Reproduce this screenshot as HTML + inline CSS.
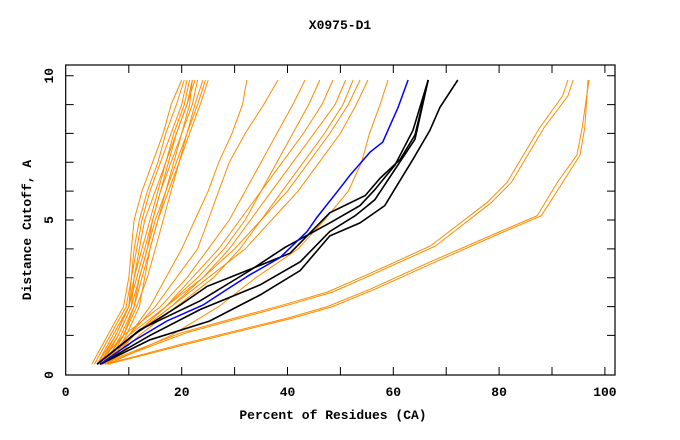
<!DOCTYPE html>
<html><head><meta charset="utf-8">
<style>
body{margin:0;background:#fff;}
svg{display:block;}
text{font-family:"Liberation Mono","DejaVu Sans Mono",monospace;font-weight:bold;fill:#000;}
</style></head>
<body>
<svg id="chart" width="680" height="440" viewBox="0 0 680 440">
<text x="340" y="29" font-size="13" text-anchor="middle">X0975-D1</text>
<text x="333" y="419" font-size="13" text-anchor="middle">Percent of Residues (CA)</text>
<text x="0" y="0" font-size="13" text-anchor="middle" transform="translate(31,230) rotate(-90)">Distance Cutoff, A</text>
<g id="lines"></g>
<g id="axes"></g>
</svg>
<script>
const yLevels = [0,1,2,3,4,5,6,7,8,9,9.85];
const groupA = [
 [3,6,9,10,10.5,11,12.5,14.5,16.5,18,20],
 [3.5,6.5,9.5,10.5,11,12,13.5,15.5,17,19,20.5],
 [4,7,10,10.5,11.5,12.5,14,16,18,20,21],
 [4.5,7.5,10,11,12,13,15,17,19,21,22],
 [5,8,10.5,11,12.5,14,15.5,17,18.5,20.5,21.5],
 [4,7.5,10,11.5,13,14.5,16,18,20,22,23],
 [5.5,8.5,11,12,13.5,15,17,19,21,23,24.5],
 [6,9,11,12.5,14,15.5,17.5,19.5,21.5,23.5,25],
 [4.5,8,10.5,12,13.5,14.5,16,17.5,19,21,22.5],
 [6.5,9.5,12,13,14,15.5,17,18.5,20,21.5,22],
 [5,9,11.5,13.5,15,16.5,18,19.5,21,22.5,24]
];
const groupB = [
 [5,10,14,17,20,22.5,25,27,29.5,31.5,32.3],
 [5,10,15,19,23,25,27,29,32,35.5,38.2],
 [4,9,16,21,25,29,32,35,38,41,43.3],
 [5,10,17,23,28,32,35,38,41,44,46.1],
 [5,11,17,22,27,31,35,39,43,46.5,48.6],
 [5,11,18,24,29,33,37,41,45,49,51],
 [6,11,17,24,30,35,39,43,47,50.5,52.4],
 [6,12,19,26,31,35,40,44,48,51.5,53.7],
 [5,11,18,25,32,37,42,46,50,53,55.2],
 [6,18,27,34,42,47,51.5,54,55.5,57.5,59]
];
const rightUpperX = [[4.5,20,40,47.5,55.6,67,77.7,81.5,87.7,92,93],[5,21,41,48.5,56.5,68,78.5,82.3,88.5,93,94]];
const rightUpperY = [0,1.1,2.1,2.5,3.15,4.1,5.6,6.3,8.2,9.3,9.85];
const rightLowerX = [[5.5,20,40,47.5,55.6,67,80.2,87.2,91,94.7,95.7,97],[6,21,41,48.5,56.5,68,81,88,92,95.3,96.2,96.8]];
const rightLowerY = [0,0.7,1.6,2.0,2.6,3.55,4.6,5.15,6.3,7.25,8.2,9.85];
const blackX = [
 [4.0,11.5,19.7,24.8,31.0,40.5,48.0,54.7,57.5,61.3,64.1,66.6],
 [4.0,12.1,17.8,23.5,32.9,39.5,48.0,53.7,56.5,60.3,63.7,66.6],
 [4.6,14.0,23.5,34.8,42.4,48.0,52.8,56.5,60.3,64.1,66.6],
 [4.6,14.0,25.3,34.8,42.4,48.0,53.7,58.4,60.7,63.7,66.9,68.8,72.2]
];
const blackY = [
 [0,1.1,2.05,2.7,3.15,3.85,5.25,5.85,6.45,7.1,7.95,9.85],
 [0,1.2,1.7,2.2,3.25,4.05,4.9,5.5,6.05,6.9,8.1,9.85],
 [0,1.0,1.9,2.75,3.55,4.6,5.15,5.7,6.75,7.8,9.85],
 [0,0.85,1.5,2.4,3.25,4.45,4.9,5.5,6.2,7.1,8.1,8.9,9.85]
];
const blueX = [4.6,10.8,17.2,24.0,28.6,32.9,38.6,43.7,45.6,49.9,51.8,55.6,58.0,60.9,62.8];
const blueY = [0,0.8,1.5,2.05,2.6,3.1,3.7,4.6,5.1,6.1,6.55,7.35,7.7,8.9,9.85];
const xTicks = [0,20,40,60,80,100];
const yTicks = [0,5,10];

const L=65.7,R=615,T=65,B=375;
function sx(v){return 75.9+5.29*v;}
function sy(v){return 364.3-28.86*v;}
const NS="http://www.w3.org/2000/svg";
const gl=document.getElementById('lines');
function drawLine(xs,ys,color,w,name){
  const p=document.createElementNS(NS,'polyline');
  p.setAttribute('points',xs.map((x,i)=>sx(x).toFixed(1)+','+sy(ys[i]).toFixed(1)).join(' '));
  p.setAttribute('fill','none');p.setAttribute('stroke',color);p.setAttribute('stroke-width',w);
  
  
  gl.appendChild(p);
}
const OR='#ff8c00';
groupA.forEach(xs=>drawLine(xs,yLevels,OR,1,'orange-series-line'));
groupB.forEach(xs=>drawLine(xs,yLevels,OR,1,'orange-series-line'));
rightUpperX.forEach(xs=>drawLine(xs,rightUpperY,OR,1,'orange-series-line'));
rightLowerX.forEach(xs=>drawLine(xs,rightLowerY,OR,1,'orange-series-line'));
blackX.forEach((xs,i)=>drawLine(xs,blackY[i],'#000',1.6,'black-series-line'));
drawLine(blueX,blueY,'#0000ff',1.5,'blue-series-line');

const ga=document.getElementById('axes');
const fr=document.createElementNS(NS,'rect');
fr.setAttribute('x',L);fr.setAttribute('y',T);fr.setAttribute('width',R-L);fr.setAttribute('height',B-T);
fr.setAttribute('fill','none');fr.setAttribute('stroke','#000');fr.setAttribute('stroke-width','1.2');


ga.appendChild(fr);
let d='';
for(let v=10;v<=100;v+=10){const x=sx(v).toFixed(1);d+=`M${x},${B}v-8M${x},${T}v8`;}
for(let v=1;v<=10;v++){const y=sy(v).toFixed(1);d+=`M${L},${y}h8M${R},${y}h-8`;}
const tk=document.createElementNS(NS,'path');
tk.setAttribute('d',d);tk.setAttribute('stroke','#000');tk.setAttribute('stroke-width','1');


ga.appendChild(tk);
xTicks.forEach(v=>{
  const t=document.createElementNS(NS,'text');
  t.setAttribute('x',v===0?L:sx(v));t.setAttribute('y',396);t.setAttribute('font-size','13');t.setAttribute('text-anchor','middle');
  t.textContent=v;
  
  
  ga.appendChild(t);
});
yTicks.forEach(v=>{
  const t=document.createElementNS(NS,'text');
  const y=v===0?B:sy(v);
  t.setAttribute('transform',`translate(53,${y}) rotate(-90)`);t.setAttribute('font-size','13');t.setAttribute('text-anchor','middle');
  t.textContent=v;
  
  
  ga.appendChild(t);
});
</script>
</body></html>
